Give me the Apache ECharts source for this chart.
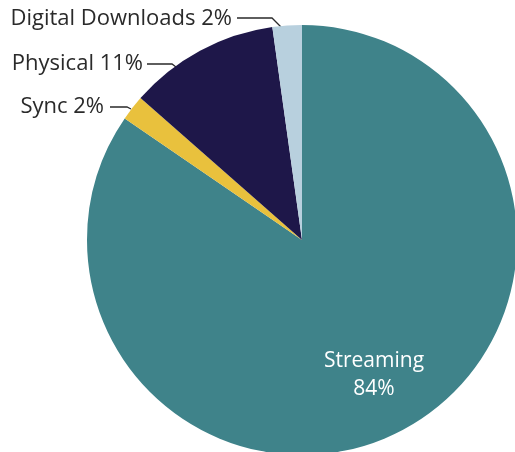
<!DOCTYPE html>
<html>
<head>
<meta charset="utf-8">
<script src="https://cdn.jsdelivr.net/npm/echarts@6/dist/echarts.min.js"></script>
<style>
html,body{margin:0;padding:0;background:#fff;}
#chart{width:515px;height:452px;}
</style>
</head>
<body>
<div id="chart"></div>
<script>
// Data
const categories = ['Streaming', 'Sync', 'Physical', 'Digital Downloads'];
const shares = [84.4, 1.9, 11.3, 2.2];
const colors = ['#3f838a', '#e9c13d', '#1e1749', '#b8d0de'];

// Label placement (layout only)
const labelPlacement = [
  { x: 374, y: 375, align: 'center' },
  { x: 104, y: 107, align: 'right', line: [[131, 109], [127, 107], [110, 107]] },
  { x: 143, y: 64, align: 'right', line: [[176, 67], [172, 64], [147, 64]] },
  { x: 232, y: 19, align: 'right', line: [[281, 27], [272, 18], [237, 18]] }
];

const chart = echarts.init(document.getElementById('chart'), null, { renderer: 'canvas' });
chart.setOption({
  animation: false,
  backgroundColor: '#ffffff',
  series: [{
    type: 'pie',
    center: [302, 240],
    radius: 215,
    startAngle: 90,
    clockwise: true,
    avoidLabelOverlap: false,
    itemStyle: { borderWidth: 0 },
    label: {
      show: true,
      position: 'outside',
      fontFamily: 'Open Sans',
      fontSize: 22,
      color: '#2a2a2a',
      formatter: p => p.name + ' ' + Math.round(p.value) + '%'
    },
    labelLine: {
      show: true,
      lineStyle: { color: '#2a2a2a', width: 1.3 }
    },
    labelLayout: function (params) {
      const pl = labelPlacement[params.dataIndex];
      const o = { x: pl.x, y: pl.y, align: pl.align, verticalAlign: 'middle' };
      if (pl.line) o.labelLinePoints = pl.line;
      return o;
    },
    data: categories.map((c, i) => {
      const d = { name: c, value: shares[i], itemStyle: { color: colors[i] } };
      if (i === 0) {
        d.label = {
          position: 'inside',
          color: '#ffffff',
          fontSize: 21,
          lineHeight: 28,
          formatter: p => p.name + '\n' + Math.round(p.value) + '%'
        };
        d.labelLine = { show: false };
      }
      return d;
    })
  }]
});
</script>
</body>
</html>
